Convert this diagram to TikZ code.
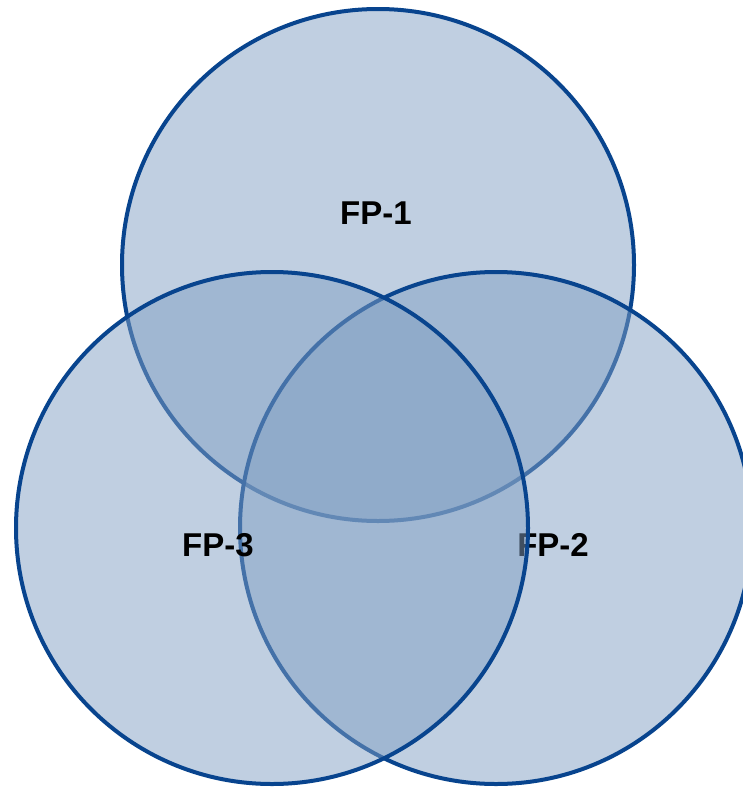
\documentclass[tikz,border=0pt]{standalone}
\usepackage{fontspec}
\setmainfont{Liberation Sans}
\definecolor{ring}{RGB}{8,68,142}
\definecolor{vfill}{RGB}{129,159,195}
\begin{document}
\begin{tikzpicture}[x=1pt,y=-1pt,
  setcircle/.style={draw=ring,line width=4pt,fill=vfill,fill opacity=0.5,draw opacity=1},
  setlabel/.style={font=\bfseries\fontsize{33}{36}\selectfont,text=black,inner sep=0pt}]
\useasboundingbox (0,0) rectangle (742,787);
\path[setcircle] (378,265) circle (256);
\node[setlabel] (l1) at (376,213) {FP-1};
\path[setcircle] (496,528) circle (256);
\node[setlabel] (l2) at (553,545) {FP-2};
\path[setcircle] (272,528) circle (256);
\node[setlabel] (l3) at (218,545) {FP-3};
\end{tikzpicture}
\end{document}
